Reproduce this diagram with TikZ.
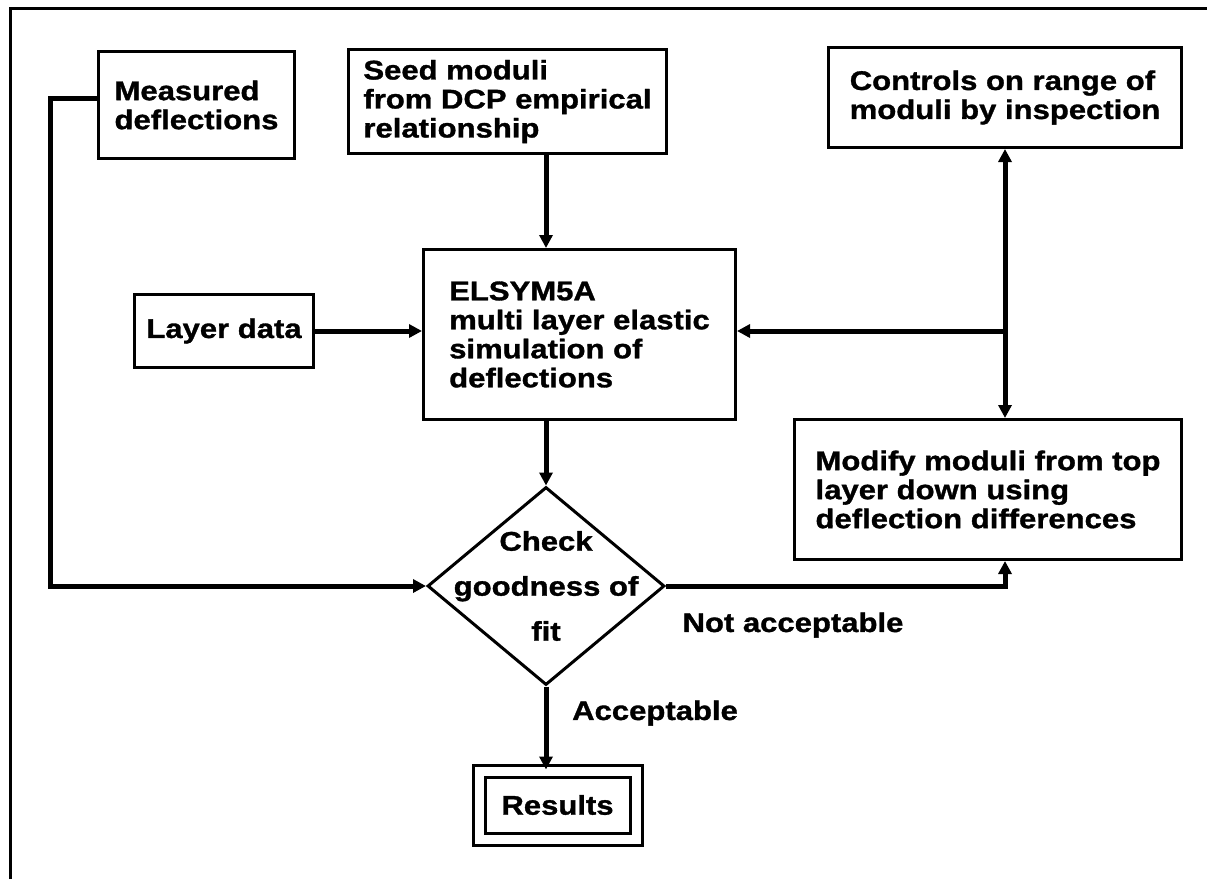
\documentclass[tikz,border=0pt]{standalone}
\usepackage{fontspec}
\newfontfamily\dfont[FakeStretch=1.15,FakeBold=1.2]{Liberation Sans}
\usetikzlibrary{shapes.geometric,arrows.meta}
\begin{document}
\begin{tikzpicture}[x=1pt,y=-1pt,
  every node/.style={font=\dfont\bfseries\fontsize{27}{29}\selectfont},
  box/.style={draw, line width=3pt, anchor=north west, align=left, inner sep=0pt},
  conn/.style={line width=5pt, -{Triangle[length=13pt,width=13pt]}},
  dconn/.style={line width=5pt, {Triangle[length=13pt,width=13pt]}-{Triangle[length=13pt,width=13pt]}},
  lbl/.style={inner sep=0pt}]
\useasboundingbox (0,0) rectangle (1207,879);
% frame
\draw[line width=3pt] (10,879) -- (10,8) -- (1207,8);
% boxes
\node[box, minimum width=196pt, minimum height=107pt] (meas) at (97,50) {Measured\\deflections};
\node[box, minimum width=318pt, minimum height=104pt] (seed) at (347,48) {Seed moduli\\from DCP empirical\\relationship};
\node[box, minimum width=353pt, minimum height=100pt] (ctl) at (827,46) {Controls on range of\\moduli by inspection};
\node[box, minimum width=179pt, minimum height=73pt] (layer) at (133,293) {Layer data};
\node[box, minimum width=312pt, minimum height=170pt] (elsym) at (422,248) {ELSYM5A\\multi layer elastic\\simulation of\\deflections};
\node[box, minimum width=387pt, minimum height=140pt] (mod) at (793,418) {Modify moduli from top\\layer down using\\deflection differences};
\node[draw, diamond, line width=3pt, minimum width=237pt, minimum height=198pt, inner sep=0pt] (chk) at (546,586) {};
\node[align=center, font=\dfont\bfseries\fontsize{27}{45}\selectfont] (chkt) at (chk) {Check\\goodness of\\fit};
\node[draw, double, line width=3pt, double distance=9pt, minimum width=157pt, minimum height=68pt] (res) at (557.5,805) {Results};
% labels
\node[lbl] (na) at (793,625) {Not acceptable};
\node[lbl, anchor=west] (acc) at (572,713) {Acceptable};
% connectors
\draw[conn] (seed.south -| chk.north) -- (elsym.north -| chk.north);
\draw[conn] (elsym.south -| chk.north) -- (chk.north);
\draw[conn] (layer.east) -- (layer.east -| elsym.west);
\draw[dconn] (ctl.south) -- (ctl.south |- mod.north);
\draw[conn] (ctl.south |- layer.east) -- (elsym.east |- layer.east);
\coordinate (mw) at (97,98);
\draw[conn] (mw) -- ++(-47,0) |- (chk.west);
\draw[conn] (chk.east) -| (mod.south -| ctl.south);
\draw[conn] (chk.south) -- (chk.south |- res.north);
\end{tikzpicture}
\end{document}
